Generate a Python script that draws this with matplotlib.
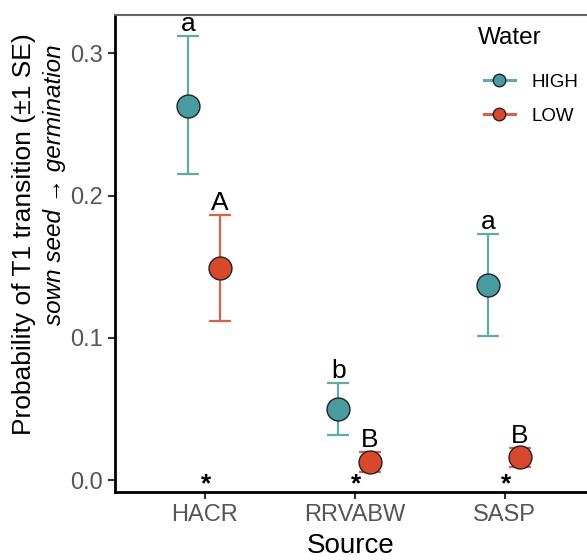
import matplotlib.pyplot as plt
import numpy as np
from matplotlib.lines import Line2D

plt.rcParams["font.family"] = ["Liberation Sans", "DejaVu Sans"]

sources = ["HACR", "RRVABW", "SASP"]
water_levels = ["HIGH", "LOW"]
high_mean = [0.263, 0.050, 0.137]
high_lo = [0.215, 0.032, 0.101]
high_hi = [0.312, 0.068, 0.173]
low_mean = [0.149, 0.013, 0.016]
low_lo = [0.112, 0.006, 0.009]
low_hi = [0.186, 0.020, 0.023]
high_letters = ["a", "b", "a"]
low_letters = ["A", "B", "B"]
star_labels = ["*", "*", "*"]

colors = {"HIGH": "#4a9b9f", "LOW": "#d8482c"}
bar_colors = {"HIGH": "#62a9aa", "LOW": "#d9604a"}
dodge = {"HIGH": -0.11, "LOW": 0.10}

fig = plt.figure(figsize=(5.87, 5.60), dpi=100)
ax = fig.add_axes([0.196, 0.121, 0.804, 0.852])

x = np.arange(1, len(sources) + 1)
series = {
    "HIGH": (high_mean, high_lo, high_hi, high_letters),
    "LOW": (low_mean, low_lo, low_hi, low_letters),
}
for level in water_levels:
    mean, lo, hi, letters = series[level]
    mean = np.array(mean)
    err = [mean - np.array(lo), np.array(hi) - mean]
    xs = x + dodge[level]
    ax.errorbar(xs, mean, yerr=err, fmt="none", ecolor=bar_colors[level],
                elinewidth=1.6, capsize=8, capthick=1.6, zorder=2)
    ax.plot(xs, mean, "o", color=colors[level], markersize=16.5,
            markeredgecolor="#222222", markeredgewidth=1.0, zorder=3)
    for xi, top, lab in zip(xs, hi, letters):
        ax.text(xi, top + 0.0035, lab, ha="center", va="baseline", fontsize=19)

for xi, s in zip(x, star_labels):
    ax.text(xi + 0.01, -0.008, s, ha="center", va="baseline", fontsize=19,
            fontweight="bold", clip_on=False)

# legend: point + horizontal line, like a pointrange key
handles = [
    Line2D([], [], color=bar_colors[level], linewidth=2.2, marker="o",
           markersize=9, markerfacecolor=colors[level],
           markeredgecolor="#222222", markeredgewidth=1.0)
    for level in water_levels
]
ax.legend(handles, water_levels, loc="upper left",
          bbox_to_anchor=(0.746, 0.913), frameon=False, fontsize=13.5,
          handlelength=1.65, handletextpad=0.9, labelspacing=0.9)
ax.text(0.769, 0.952, "Water", transform=ax.transAxes, ha="left",
        va="center", fontsize=17.5)

ax.set_xlim(0.4, 3.55)
ax.set_ylim(-0.0084, 0.3267)
ax.set_xticks(x)
ax.set_xticklabels(sources)
ax.set_yticks([0.0, 0.1, 0.2, 0.3])
ax.set_yticklabels(["0.0", "0.1", "0.2", "0.3"])
ax.tick_params(axis="both", labelsize=17, labelcolor="#555555", length=5,
               width=1.5, color="#333333")

for side in ["left", "bottom"]:
    ax.spines[side].set_linewidth(2)
    ax.spines[side].set_color("black")
ax.spines["top"].set_color("#666666")
ax.spines["top"].set_linewidth(1.5)
ax.spines["right"].set_visible(False)

ax.set_xlabel("Source", fontsize=20, labelpad=5)
fig.text(0.041, 0.582, "Probability of T1 transition (±1 SE)", rotation=90,
         ha="center", va="center", fontsize=19)
fig.text(0.092, 0.67, "sown seed → germination", rotation=90,
         ha="center", va="center", fontsize=17.5, style="italic",
         family=["Liberation Sans", "DejaVu Sans"])

fig.savefig("out.png", dpi=100)
